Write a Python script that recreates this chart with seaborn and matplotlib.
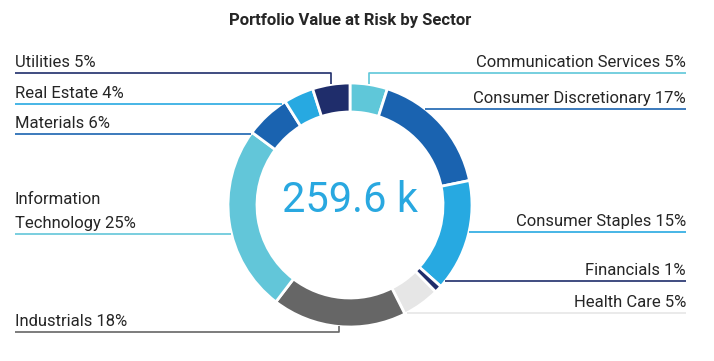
import numpy as np
import matplotlib
matplotlib.use('Agg')
import matplotlib.pyplot as plt
import seaborn as sns

# Du lieu
sectors = ['Communication Services', 'Consumer Discretionary', 'Consumer Staples',
           'Financials', 'Health Care', 'Industrials', 'Information\nTechnology',
           'Materials', 'Real Estate', 'Utilities']
pct = [5, 17, 15, 1, 5, 18, 25, 6, 4, 5]
colors = ['#5fc7d9', '#1a63b0', '#27a9e1', '#1f2d6b', '#e6e6e6',
          '#666666', '#62c6d9', '#1a63b0', '#27a9e1', '#1f2d6b']
total_text = '259.6 k'
title = 'Portfolio Value at Risk by Sector'

# bo cuc nhan (pixel tu tren xuong)
label_side = ['R', 'R', 'R', 'R', 'R', 'L', 'L', 'L', 'L', 'L']
label_line_y = [73, 109, 232, 281, 313, 332, 234, 134, 104, 73]

sns.set_theme(style='white')
plt.rcParams['font.family'] = ['Roboto', 'DejaVu Sans']

W, H = 714, 361
fig = plt.figure(figsize=(W / 100, H / 100), dpi=100)
ax = fig.add_axes([0, 0, 1, 1])

cx, cy, R, ring = 350, H - 205, 122, 29
wedges, _ = ax.pie(pct, colors=colors, startangle=90, counterclock=False,
                   radius=R, center=(cx, cy),
                   wedgeprops=dict(width=ring, edgecolor='white', linewidth=2))
ax.set_xlim(0, W)
ax.set_ylim(0, H)
ax.set_aspect('equal')
ax.axis('off')

x_left, x_right = 15, 686
for w, name, p, side, ly_px, col in zip(wedges, sectors, pct, label_side,
                                         label_line_y, colors):
    ly = H - ly_px
    dy = ly - cy
    if abs(dy) < R:
        dx = np.sqrt(R ** 2 - dy ** 2)
        xe = cx - dx if side == 'L' else cx + dx
        ax.plot([x_left if side == 'L' else x_right, xe], [ly, ly],
                color=col, lw=1.2, solid_capstyle='butt')
    else:
        mid = np.deg2rad((w.theta1 + w.theta2) / 2)
        xm = cx + R * np.cos(mid)
        ym = cy + R * np.sin(mid)
        ax.plot([x_left if side == 'L' else x_right, xm, xm], [ly, ly, ym],
                color=col, lw=1.2, solid_capstyle='butt')
    txt = f'{name} {p}%'
    if side == 'L':
        ax.text(x_left, ly + 6, txt, ha='left', va='baseline', fontsize=12,
                color='#262626', linespacing=1.75)
    else:
        ax.text(x_right, ly + 6, txt, ha='right', va='baseline', fontsize=12,
                color='#262626')

ax.text(cx, cy + 5, total_text, ha='center', va='center', fontsize=30,
        color='#29a8e0')
ax.text(cx, H - 21, title, ha='center', va='center', fontsize=12,
        fontweight='bold', color='#262626')

plt.savefig('out.png', dpi=100)
plt.close()
